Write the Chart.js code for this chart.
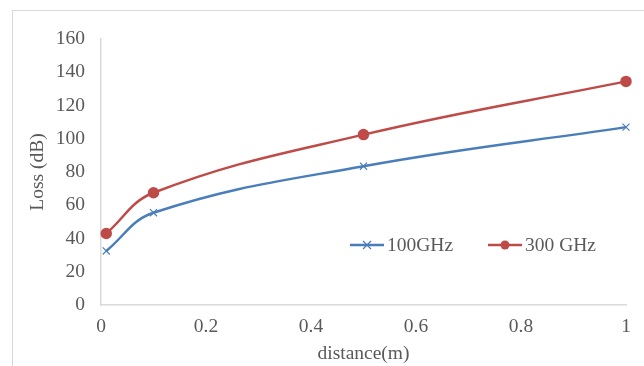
<!DOCTYPE html>
<html>
<head>
<meta charset="utf-8">
<script src="https://cdn.jsdelivr.net/npm/chart.js@4.4.1/dist/chart.umd.min.js"></script>
<style>
  html, body { margin: 0; padding: 0; background: #fff; }
  #wrap { position: relative; width: 644px; height: 366px; overflow: hidden; }
  #frame { position: absolute; left: 12px; top: 10px; width: 700px; height: 400px; border: 1px solid #d9d9d9; box-sizing: border-box; }
  canvas { position: absolute; left: 0; top: 0; }
</style>
</head>
<body>
<div id="wrap">
  <div id="frame"></div>
  <canvas id="chart" width="644" height="366"></canvas>
</div>
<script>
// Data
const distances = [0.01, 0.1, 0.5, 1];
const loss100 = [32.5, 55.5, 83.5, 107];
const loss300 = [43, 67.5, 102.5, 134.5];
const seriesNames = ['100GHz', '300 GHz'];

const blue = '#4a7ebb';
const red = '#be4b48';
const textColor = '#595959';
const serif = '"Liberation Serif", "Times New Roman", serif';
const fontSize = 19.5;

const toPoints = (xs, ys) => xs.map((x, i) => ({ x, y: ys[i] }));

// Legend drawn inside the plot, like the original
const insideLegend = {
  id: 'insideLegend',
  afterDraw(chart) {
    const { ctx } = chart;
    const items = [
      { x: 350, ds: chart.data.datasets[0] },
      { x: 488, ds: chart.data.datasets[1] }
    ];
    const y = 245;
    ctx.save();
    items.forEach(it => {
      ctx.strokeStyle = it.ds.borderColor;
      ctx.lineWidth = 2.5;
      ctx.beginPath();
      ctx.moveTo(it.x, y);
      ctx.lineTo(it.x + 34, y);
      ctx.stroke();
      const cx = it.x + 17;
      if (it.ds.pointStyle === 'crossRot') {
        ctx.lineWidth = 1.2;
        ctx.beginPath();
        ctx.moveTo(cx - 4, y - 4); ctx.lineTo(cx + 4, y + 4);
        ctx.moveTo(cx + 4, y - 4); ctx.lineTo(cx - 4, y + 4);
        ctx.stroke();
      } else {
        ctx.fillStyle = it.ds.borderColor;
        ctx.beginPath();
        ctx.arc(cx, y, 4.5, 0, Math.PI * 2);
        ctx.fill();
      }
      ctx.fillStyle = textColor;
      ctx.font = fontSize + 'px ' + serif;
      ctx.textBaseline = 'middle';
      ctx.fillText(it.ds.label, it.x + 37, y + 1);
    });
    ctx.restore();
  }
};

new Chart(document.getElementById('chart'), {
  type: 'scatter',
  data: {
    datasets: [
      {
        label: seriesNames[0],
        data: toPoints(distances, loss100),
        borderColor: blue,
        backgroundColor: blue,
        showLine: true,
        borderWidth: 2.5,
        tension: 0.4,
        pointStyle: 'crossRot',
        pointRadius: 5,
        pointBorderWidth: 1.2,
        clip: false
      },
      {
        label: seriesNames[1],
        data: toPoints(distances, loss300),
        borderColor: red,
        backgroundColor: red,
        showLine: true,
        borderWidth: 2.5,
        tension: 0.4,
        pointStyle: 'circle',
        pointRadius: 4.5,
        clip: false
      }
    ]
  },
  options: {
    responsive: false,
    animation: false,
    layout: { padding: { left: 0, right: 18, top: 39, bottom: 0 } },
    scales: {
      x: {
        type: 'linear',
        min: 0,
        max: 1,
        ticks: {
          stepSize: 0.2, color: textColor, font: { family: serif, size: fontSize }, padding: 10, maxRotation: 0,
          callback: v => String(Number(v.toFixed(1)))
        },
        grid: { display: false, drawTicks: false },
        border: { color: '#d9d9d9', width: 1.5 },
        title: { display: true, text: 'distance(m)', color: textColor, font: { family: serif, size: fontSize }, padding: 0 },
        afterFit: s => { s.height = 61; }
      },
      y: {
        min: 0,
        max: 160,
        ticks: { stepSize: 20, color: textColor, font: { family: serif, size: fontSize }, padding: 16 },
        grid: { display: false, drawTicks: false },
        border: { color: '#d9d9d9', width: 1.5 },
        title: { display: true, text: 'Loss (dB)', color: textColor, font: { family: serif, size: fontSize }, padding: { top: 26, bottom: 0 } },
        afterFit: s => { s.width = 101; }
      }
    },
    plugins: {
      legend: { display: false },
      tooltip: { enabled: false }
    }
  },
  plugins: [insideLegend]
});
</script>
</body>
</html>
